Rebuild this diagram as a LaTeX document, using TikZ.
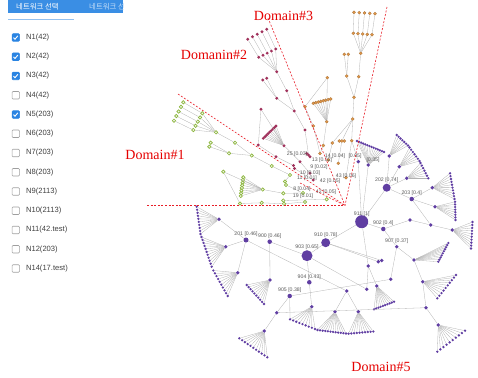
\documentclass[tikz,border=0pt]{standalone}
\usepackage{fontspec}
\setmainfont{Liberation Serif}
\setsansfont{Liberation Sans}
\newfontfamily\krfont{Noto Sans CJK KR}
\usepackage{tikz}
\usetikzlibrary{positioning, calc}
\definecolor{nodepurple}{RGB}{96,62,162}
\definecolor{nodemaroon}{RGB}{160,50,92}
\definecolor{nodeorange}{RGB}{224,150,72}
\definecolor{nodegreen}{RGB}{140,182,62}
\definecolor{barblue}{RGB}{58,142,228}
\definecolor{boxblue}{RGB}{42,132,226}
\definecolor{domred}{RGB}{232,30,40}
\tikzstyle{netlink} = [draw=gray!60, line width=0.3pt]
\tikzstyle{domline} = [draw=domred, dash pattern=on 2pt off 1.6pt, line width=0.6pt]
\tikzstyle{domlabel} = [text=red!90!black, 
font=\rmfamily\fontsize{14}{14}\selectfont, 
inner sep=0pt]
\tikzstyle{wlabel} = [font=\sffamily\fontsize{5.2}{5.2}\selectfont, text=black!65, inner sep=0.4pt]
\tikzstyle{pleaf} = [circle, fill=nodepurple, inner sep=0pt, minimum size=2.6pt]
\tikzstyle{phub} = [circle, fill=nodepurple, inner sep=0pt, minimum size=3.8pt]
\tikzstyle{mleaf} = [circle, fill=nodemaroon, inner sep=0pt, minimum size=3.2pt]
\tikzstyle{oleaf} = [circle, fill=nodeorange, draw=nodeorange!70!black, 
line width=0.2pt, inner sep=0pt, minimum size=3.2pt]
\tikzstyle{gleaf} = [circle, draw=nodegreen, fill=nodegreen!12, 
line width=0.7pt, inner sep=0pt, minimum size=3.4pt]
\tikzstyle{chkbox} = [rectangle, rounded corners=1pt, draw=gray!75, 
line width=0.6pt, minimum size=7.5pt, inner sep=0pt]
\tikzstyle{chkon} = [chkbox, fill=boxblue, draw=boxblue]
\tikzstyle{itemtext} = [font=\sffamily\fontsize{7.6}{8}\selectfont, text=black!75, inner sep=0pt]
\tikzstyle{tabtext} = [font=\krfont\fontsize{7.4}{8}\selectfont, inner sep=0pt]
% leaves spread between two points, all tied to one hub
\newcommand{\netfan}[6]{%
\foreach \k in {1,...,#5}{
  \pgfmathsetmacro{\fpos}{(\k-1)/(#5-1)}
  \node[#6] (#1-\k) at ($(#3)!\fpos!(#4)$) {};
  \draw[netlink] (#2) -- (#1-\k);
}}
% hub -> inner row -> outer row, five chains
\newcommand{\netchain}[7]{%
\foreach \k in {1,...,5}{
  \pgfmathsetmacro{\fpos}{(\k-1)/4}
  \node[#7] (#1-in-\k) at ($(#3)!\fpos!(#4)$) {};
  \node[#7] (#1-out-\k) at ($(#5)!\fpos!(#6)$) {};
  \draw[netlink] (#2) -- (#1-in-\k) -- (#1-out-\k);
}}

\begin{document}
\begin{tikzpicture}[x=1pt, y=-1pt]
\useasboundingbox (0,0) rectangle (478,377);

% selection panel
\begin{scope}
\clip (8,0) rectangle (123,13);
\fill[barblue] (8,0) rectangle (123,13);
\node (tab1) [tabtext, text=white, anchor=west] at (16,6.5) {네트워크 선택};
\node (tab2) [tabtext, text=white!70!barblue, anchor=west] at (89,6.5) {네트워크 선};
\end{scope}
\draw[barblue!55, line width=1.2pt] (8,19.5) -- (74,19.5);
\foreach \lbl/\chk [count=\i] in {{N1(42)}/1, {N2(42)}/1, {N3(42)}/1, {N4(42)}/0, {N5(203)}/1, {N6(203)}/0, {N7(203)}/0, {N8(203)}/0, {N9(2113)}/0, {N10(2113)}/0, {N11(42.test)}/0, {N12(203)}/0, {N14(17.test)}/0}{
  \ifnum\chk=1
    \node (box\i) [chkon] at (15.8,{37.5+19.25*(\i-1)}) {};
    \draw[white, line width=0.9pt] ($(box\i.center)+(-2.3,0.1)$) -- ++(1.5,1.6) -- ++(2.9,-3.4);
  \else
    \node (box\i) [chkbox] at (15.8,{37.5+19.25*(\i-1)}) {};
  \fi
  \node (item\i) [itemtext, right=6pt of box\i] {\lbl};
}

% domain 5
\node (h911) [phub, minimum size=13pt, label={[wlabel, yshift=-2pt]above:911 [1]}] at (361.7,221.7) {};
\node (h202) [phub, minimum size=8pt, label={[wlabel]above:202 [0.74]}] at (386.7,187.7) {};
\node (h203) [phub, minimum size=4.5pt, label={[wlabel]above:203 [0.4]}] at (411.7,199) {};
\node (h902) [phub, minimum size=4.5pt, label={[wlabel]above:902 [0.4]}] at (383.3,229) {};
\node (h907) [phub, label={[wlabel]above:907 [0.37]}] at (396.7,246.7) {};
\node (h910) [phub, minimum size=9pt, label={[wlabel]above:910 [0.78]}] at (325.7,242.7) {};
\node (h903) [phub, minimum size=11pt, label={[wlabel]above:903 [0.65]}] at (307,255.7) {};
\node (h904) [phub, minimum size=4.5pt, label={[wlabel]above:904 [0.43]}] at (309.3,282.3) {};
\node (h905) [phub, minimum size=4.5pt, label={[wlabel]above:905 [0.38]}] at (289.7,296) {};
\node (h201) [phub, minimum size=5pt, label={[wlabel]above:201 [0.46]}] at (246,240) {};
\node (h900) [phub, minimum size=4.5pt, label={[wlabel]above:900 [0.46]}] at (269.7,241.7) {};

\node (p0) [phub] at (358.3,161.7) {};
\node (p1) [phub] at (368.3,165) {};
\netfan{arc0}{p1}{357,141}{384,152}{14}{pleaf}
\node (a1) [phub] at (389.3,156) {};
\node (a2) [phub] at (399.3,166.7) {};
\node (a3) [phub] at (406.7,178.3) {};
\netfan{fa1}{a1}{396.7,135}{408,145.5}{7}{pleaf}
\netfan{fa2}{a2}{409.5,147.5}{419.5,161}{7}{pleaf}
\netfan{fa3}{a3}{420.5,163}{428.3,178.3}{7}{pleaf}
\node (b1) [phub] at (432.3,187.7) {};
\node (b2) [phub] at (435,206.7) {};
\netfan{fb1}{b1}{450,173.3}{454.5,199}{10}{pleaf}
\netfan{fb2}{b2}{455,201.8}{455.5,220}{8}{pleaf}
\node (c1) [phub] at (410,220) {};
\node (c2) [phub] at (430.7,225) {};
\node (c3) [phub] at (452.3,230) {};
\netfan{fc3}{c3}{472.5,222}{471,248.5}{10}{pleaf}
\node (d1) [phub] at (414,260) {};
\node (d2) [phub] at (422.7,281.7) {};
\node (d3) [phub] at (426,307.7) {};
\node (d4) [phub] at (438.3,325) {};
\netfan{fd1}{d1}{448.3,243}{438.3,261.7}{10}{pleaf}
\netfan{fd2}{d2}{456,275}{437.3,298.3}{10}{pleaf}
\netfan{fd4}{d4}{465,330.7}{437.3,351.7}{10}{pleaf}
\node (e1) [phub] at (390.7,279.3) {};
\node (e2) [phub] at (276.7,312.7) {};
\node (t1) [phub] at (378.3,261.7) {};
\node (t2) [phub] at (381.7,260.5) {};
\node (q1) [phub] at (368.3,266) {};
\node (q2) [phub] at (366.7,289.3) {};
\node (q3) [phub] at (376.7,286) {};
\netfan{fq3}{q3}{374,309.3}{394,301.7}{10}{pleaf}
\node (q4) [phub] at (346.7,291) {};
\node (k0) [phub] at (311.7,306.7) {};
\node (k1) [phub] at (335,311.7) {};
\node (k2) [phub] at (358.3,311.7) {};
\netfan{fk0}{k0}{290,319.3}{315,329}{9}{pleaf}
\netfan{fk1}{k1}{317.5,330}{346,333.5}{12}{pleaf}
\netfan{fk2}{k2}{348.5,333.7}{373.3,331.5}{10}{pleaf}
\node (l1) [phub] at (219,219.3) {};
\node (l2) [phub] at (225.7,246.7) {};
\node (l3) [phub] at (237.7,272.7) {};
\netfan{fl1}{l1}{196.7,206.7}{200.5,234}{10}{pleaf}
\netfan{fl2}{l2}{201.5,237}{211.7,266.7}{11}{pleaf}
\netfan{fl3}{l3}{213.3,270.5}{227.7,296}{10}{pleaf}
\node (mm) [phub] at (270,280) {};
\netfan{fm}{mm}{246.7,285}{264,304}{10}{pleaf}
\node (nn) [phub] at (264.3,331) {};
\netfan{fn}{nn}{239.3,338.3}{267.3,357.3}{11}{pleaf}

\draw[netlink] (h911) -- (h202);
\draw[netlink] (h911) -- (h902);
\draw[netlink] (h911) -- (h910);
\draw[netlink] (h911) -- (p0);
\draw[netlink] (h911) -- (p1);
\draw[netlink] (h911) -- (q1);
\draw[netlink] (h202) -- (a1);
\draw[netlink] (h202) -- (a2);
\draw[netlink] (h202) -- (a3);
\draw[netlink] (h202) -- (h203);
\draw[netlink] (h203) -- (b1);
\draw[netlink] (h203) -- (b2);
\draw[netlink] (h203) -- (c2);
\draw[netlink] (h902) -- (c1) -- (c2) -- (c3);
\draw[netlink] (h902) -- (h907);
\draw[netlink] (h907) -- (d1) -- (d2) -- (d3) -- (d4);
\draw[netlink] (h907) -- (e1) -- (h905);
\draw[netlink] (e2) -- (d3);
\draw[netlink] (h910) -- (t1);
\draw[netlink] (h910) -- (t2);
\draw[netlink] (h910) -- (h903);
\draw[netlink] (q1) -- (q2);
\draw[netlink] (q1) -- (q3);
\draw[netlink] (h903) -- (q2);
\draw[netlink] (h903) -- (h904);
\draw[netlink] (h903) -- (h900);
\draw[netlink] (h201) -- (q4);
\draw[netlink] (q4) -- (k1);
\draw[netlink] (q4) -- (k2);
\draw[netlink] (h904) -- (k0);
\draw[netlink] (h905) -- (e2) -- (nn);
\draw[netlink] (h905) -- (fk0-1);
\draw[netlink] (h201) -- (l1);
\draw[netlink] (h201) -- (l2);
\draw[netlink] (h201) -- (l3);
\draw[netlink] (h900) -- (mm);

% domain 3
\node (oh1) [oleaf] at (360.7,53.3) {};
\netchain{ot}{oh1}{353.3,33.3}{372,34.7}{354,12.3}{375,13.7}{oleaf}
\node (o2a) [oleaf] at (344.3,54.3) {};
\node (o2b) [oleaf] at (348.3,54.3) {};
\node (o3) [oleaf] at (346.7,76) {};
\node (o4) [oleaf] at (358.7,76.7) {};
\node (o5) [oleaf] at (354,97.3) {};
\node (o6) [oleaf] at (352.7,119) {};
\node (o7) [oleaf] at (351.7,140.7) {};
\node (o8) [oleaf] at (327.3,77.7) {};
\node (o9) [oleaf] at (326.7,121.7) {};
\netfan{fo9}{o9}{313.3,103.3}{330.7,99}{8}{oleaf}
\node (o10) [oleaf] at (305,106.7) {};
\node (o11) [oleaf] at (313.3,126) {};
\node (o12a) [oleaf] at (339.3,141) {};
\node (o12b) [oleaf] at (341.8,141) {};
\node (o12c) [oleaf] at (344.3,141) {};
\node (o13) [oleaf] at (332.3,143) {};
\node (o14) [oleaf] at (323.3,145.5) {};
\node (o15) [oleaf] at (320,153.5) {};
\node (o16) [oleaf] at (328.3,160) {};
\node (o17) [oleaf] at (338.3,163.3) {};
\node (o18) [oleaf] at (346,177.7) {};
\draw[netlink] (oh1) -- (o4);
\draw[netlink] (o2a) -- (o3);
\draw[netlink] (o2b) -- (o3);
\draw[netlink] (o3) -- (o5);
\draw[netlink] (o4) -- (o5) -- (o6) -- (o7);
\draw[netlink] (o8) -- (o9);
\draw[netlink] (o8) -- (o10) -- (o11) -- (o15);
\draw[netlink] (o9) -- (o14) -- (o15);
\draw[netlink] (o6) -- (o12b) -- (o17);
\draw[netlink] (o6) -- (o13) -- (o16);
\draw[netlink] (o7) -- (o18);
\draw[netlink] (p0) -- (o7);

% domain 2
\node (mh1) [mleaf] at (276.7,71.7) {};
\netchain{mt}{mh1}{258.7,57.3}{275.7,49}{247.7,39.3}{266.7,29.3}{mleaf}
\node (m2a) [mleaf] at (262.7,80) {};
\node (m2b) [mleaf] at (266.7,78.3) {};
\node (m3) [mleaf] at (276.7,98.3) {};
\node (m4) [mleaf] at (286.7,90.7) {};
\node (m5) [mleaf] at (294.3,111) {};
\node (m6) [mleaf] at (305,130) {};
\node (mh2) [mleaf] at (261,109.3) {};
\node (mf) [mleaf] at (284,145.7) {};
\netfan{fmf}{mf}{263.3,138.3}{276,126}{9}{mleaf}
\node (m8) [mleaf] at (258.3,145) {};
\node (m9) [mleaf] at (276,156.7) {};
\node (m10a) [mleaf] at (293.5,165.5) {};
\node (m10b) [mleaf] at (294.5,168.5) {};
\node (m11) [mleaf] at (300,161.7) {};
\node (m12a) [mleaf] at (306.7,153.5) {};
\node (m12b) [mleaf] at (308.5,155) {};
\node (m12c) [mleaf] at (310,156.7) {};
\node (m13) [mleaf] at (310,173.3) {};
\node (m14) [mleaf] at (313.3,180) {};
\draw[netlink] (m2a) -- (m3);
\draw[netlink] (m2b) -- (m3);
\draw[netlink] (m3) -- (m5);
\draw[netlink] (mh1) -- (m4) -- (m5) -- (m6) -- (m12b);
\draw[netlink] (mh2) -- (m8);
\draw[netlink] (mh2) -- (mf);
\draw[netlink] (m8) -- (m9) -- (m10a);
\draw[netlink] (mf) -- (m11) -- (m13);
\draw[netlink] (m10b) -- (m14);

% domain 1
\node (gh1) [gleaf] at (216,132.3) {};
\netchain{gt}{gh1}{202.3,113.3}{193.3,130}{183.3,102.3}{174,120.7}{gleaf}
\node (gr2) [gleaf] at (235,142.7) {};
\node (gr3) [gleaf] at (251.7,155.5) {};
\node (gr4) [gleaf] at (271.7,166) {};
\node (gr5) [gleaf] at (290,175) {};
\node (gr6a) [gleaf] at (210.7,142.7) {};
\node (gr6b) [gleaf] at (209.3,146.7) {};
\node (gr7) [gleaf] at (229,153.3) {};
\node (gr8) [gleaf] at (223.3,171.7) {};
\node (gr9) [gleaf] at (240,203.5) {};
\node (gh2) [gleaf] at (262.7,189.5) {};
\netfan{fgh2}{gh2}{243.3,177.3}{240.7,196}{8}{gleaf}
\node (gr10) [gleaf] at (283.3,193.3) {};
\node (gr13) [gleaf] at (261.7,202.8) {};
\node (gr14a) [gleaf] at (283.3,200.5) {};
\node (gr14b) [gleaf] at (284,203.8) {};
\node (gr15) [gleaf] at (305,202) {};
\node (gr16) [gleaf] at (326.7,199.3) {};
\node (gr17a) [gleaf] at (285,181.5) {};
\node (gr17b) [gleaf] at (286,185) {};
\node (gr18) [gleaf] at (303,193) {};
\draw[netlink] (gh1) -- (gr2) -- (gr3) -- (gr4) -- (gr5) -- (gr17a);
\draw[netlink] (gr6a) -- (gr7);
\draw[netlink] (gr6b) -- (gr7) -- (gr3);
\draw[netlink] (gr8) -- (gr9);
\draw[netlink] (gr8) -- (gh2) -- (gr10) -- (gr18);
\draw[netlink] (gr9) -- (gr13) -- (gr14b) -- (gr15);
\draw[netlink] (gr14a) -- (gr16);
\draw[netlink] (gr17b) -- (gr18);

% weights in the core
\node (cl1) [wlabel] at (297,154) {25 [0.03]};
\node (cl2) [wlabel] at (322,160.5) {13 [0.02]};
\node (cl3) [wlabel] at (319,167) {9 [0.02]};
\node (cl4) [wlabel] at (310,173) {10 [0.03]};
\node (cl5) [wlabel] at (307,178.5) {11 [0.01]};
\node (cl6) [wlabel] at (330,181.5) {42 [0.05]};
\node (cl7) [wlabel] at (346,176.5) {43 [0.06]};
\node (cl8) [wlabel] at (302,189) {8 [0.04]};
\node (cl9) [wlabel] at (326,192) {42 [0.05]};
\node (cl10) [wlabel] at (303,196.5) {19 [0.01]};
\node (cl11) [wlabel] at (335,156) {14 [0.04]};
\node (cl12) [wlabel] at (355,156) {[0.05]};
\node (cl13) [wlabel] at (373,160) {[0.35]};

% domain borders
\coordinate (core) at (345,205.5);
\draw[domline] (147,205.5) -- (core);
\draw[domline] (178,94) -- (core);
\draw[domline] (268,18) -- (core);
\draw[domline] (387,7) -- (core);
\draw[domline] (300,183) -- (core);
\node (dom1) [domlabel] at (155,155) {Domain\#1};
\node (dom2) [domlabel] at (214,55) {Domanin\#2};
\node (dom3) [domlabel] at (283.5,16) {Domain\#3};
\node (dom5) [domlabel] at (381,367) {Domain\#5};
\end{tikzpicture}
\end{document}
